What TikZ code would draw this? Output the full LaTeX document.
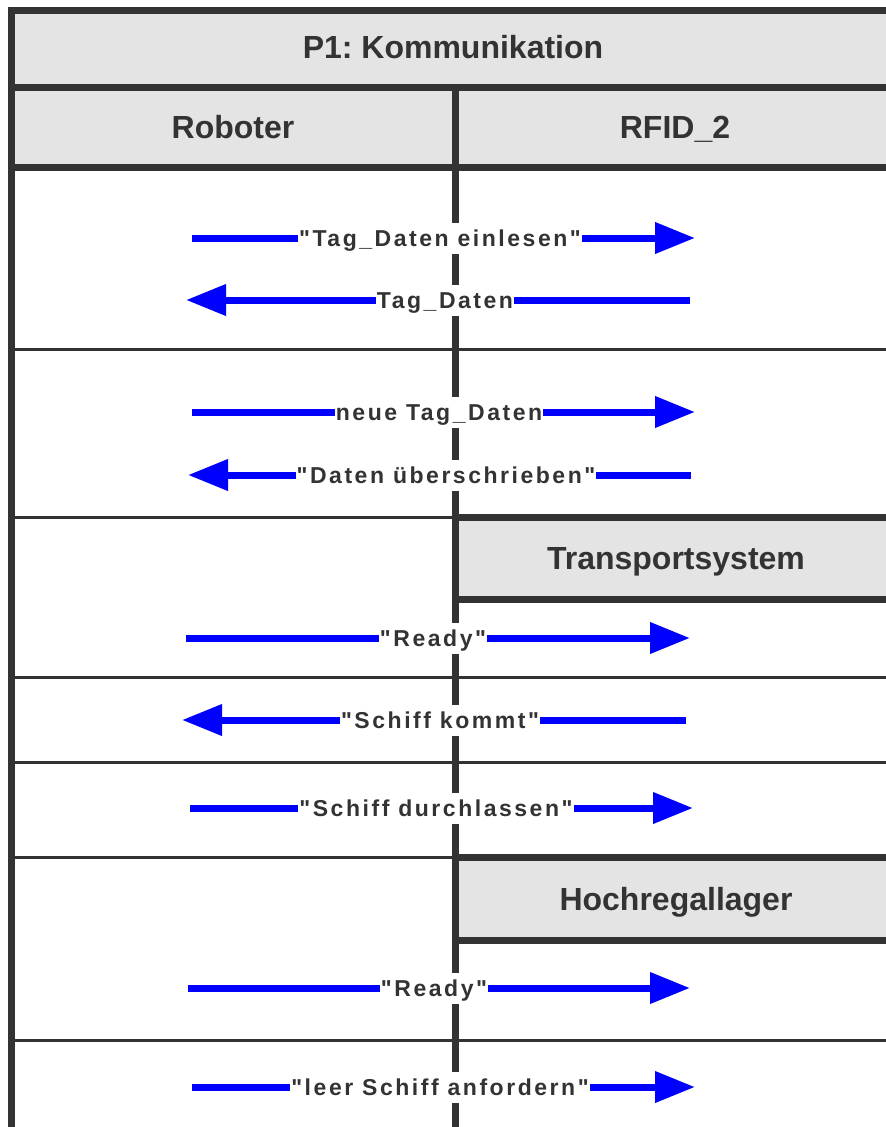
\documentclass[tikz,border=0pt]{standalone}
\usepackage{fontspec}
\setmainfont{Liberation Sans}
\newfontfamily\lblfont{Liberation Sans}[LetterSpace=11]
\usetikzlibrary{arrows.meta}
\definecolor{ink}{HTML}{333333}
\definecolor{hdr}{HTML}{E4E4E4}
\definecolor{msgblue}{HTML}{0000FF}
\frenchspacing
\begin{document}
\begin{tikzpicture}[x=1pt,y=-1pt,
  thickln/.style={draw=ink,line width=7pt},
  thinln/.style={draw=ink,line width=3pt},
  hdrfill/.style={fill=hdr},
  hdrtext/.style={font=\frenchspacing\fontsize{32}{36}\selectfont\bfseries, text=ink, inner sep=0pt, text height=23pt, text depth=0pt},
  msg/.style={draw=msgblue,line width=7pt,-{Triangle[length=40pt,width=30pt]}},
  lbl/.style={fill=white, font=\lblfont\fontsize{23}{26}\selectfont\bfseries, text=ink, inner xsep=1pt, inner ysep=0pt, text height=16.5pt, text depth=0pt, minimum height=31pt}]
\useasboundingbox (0,0) rectangle (886,1127);
\clip (0,0) rectangle (886,1127);
% header fills
\fill[hdrfill] (11,10) rectangle (900,87);
\fill[hdrfill] (11,87) rectangle (900,167);
\fill[hdrfill] (455,517) rectangle (900,599);
\fill[hdrfill] (455,857) rectangle (900,940);
% thin row separators
\draw[thinln] (11,349) -- (900,349);
\draw[thinln] (11,517) -- (455,517);
\draw[thinln] (11,677) -- (900,677);
\draw[thinln] (11,762) -- (900,762);
\draw[thinln] (11,857) -- (455,857);
\draw[thinln] (11,1040) -- (900,1040);
% thick frame lines
\draw[thickln,line join=miter] (11,1140) -- (11,10) -- (900,10);
\draw[thickln] (11,87) -- (900,87);
\draw[thickln] (11,167) -- (900,167);
\draw[thickln] (455,87) -- (455,1140);
\draw[thickln] (455,517) -- (900,517);
\draw[thickln] (455,599) -- (900,599);
\draw[thickln] (455,857) -- (900,857);
\draw[thickln] (455,940) -- (900,940);
% header texts
\node[hdrtext] (title) at (453,47) {P1: Kommunikation};
\node[hdrtext] (robot) at (233,127) {Roboter};
\node[hdrtext] (rfid) at (675,127) {RFID\_2};
\node[hdrtext] (trans) at (676,558) {Transportsystem};
\node[hdrtext] (hoch) at (676,899) {Hochregallager};
% message end points
\coordinate (m1a) at (192,238); \coordinate (m1b) at (695,238);
\coordinate (m2a) at (690,300); \coordinate (m2b) at (186,300);
\coordinate (m3a) at (192,412); \coordinate (m3b) at (695,412);
\coordinate (m4a) at (691,475); \coordinate (m4b) at (188,475);
\coordinate (m5a) at (186,638); \coordinate (m5b) at (690,638);
\coordinate (m6a) at (686,720); \coordinate (m6b) at (182,720);
\coordinate (m7a) at (190,808); \coordinate (m7b) at (693,808);
\coordinate (m8a) at (188,988); \coordinate (m8b) at (690,988);
\coordinate (m9a) at (192,1087); \coordinate (m9b) at (695,1087);
% arrows
\draw[msg] (m1a) -- (m1b);
\draw[msg] (m2a) -- (m2b);
\draw[msg] (m3a) -- (m3b);
\draw[msg] (m4a) -- (m4b);
\draw[msg] (m5a) -- (m5b);
\draw[msg] (m6a) -- (m6b);
\draw[msg] (m7a) -- (m7b);
\draw[msg] (m8a) -- (m8b);
\draw[msg] (m9a) -- (m9b);
% labels
\node[lbl] (l1) at (440,238) {"Tag\_Daten einlesen"};
\node[lbl] (l2) at (445,300) {Tag\_Daten};
\node[lbl] (l3) at (439,412) {neue Tag\_Daten};
\node[lbl] (l4) at (446,475) {"Daten überschrieben"};
\node[lbl] (l5) at (433,638) {"Ready"};
\node[lbl] (l6) at (440,720) {"Schiff kommt"};
\node[lbl] (l7) at (436,808) {"Schiff durchlassen"};
\node[lbl] (l8) at (434,988) {"Ready"};
\node[lbl] (l9) at (440,1087) {"leer Schiff anfordern"};
\end{tikzpicture}
\end{document}
